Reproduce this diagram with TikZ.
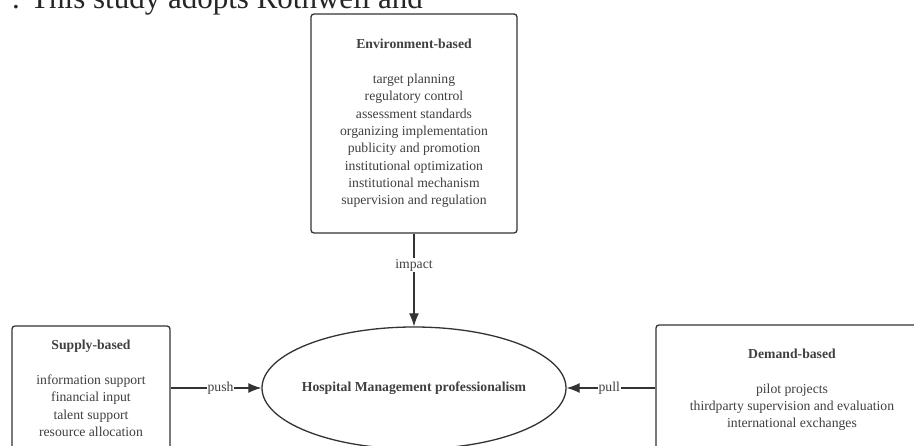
\documentclass[tikz,border=0pt]{standalone}
\usepackage{fontspec}
\setmainfont{Liberation Serif}
\usepackage{xcolor}
\usetikzlibrary{shapes.geometric,arrows.meta}
\colorlet{box edge}{black!80}
\colorlet{box text}{black!75}
\def\itemfont{\fontsize{13.7}{17.3}\selectfont}
\tikzset{factor/.style={draw=box edge, line width=1.3pt, rounded corners=3pt,
        align=center, text=box text, font=\itemfont, inner sep=0pt},
    core/.style={ellipse, draw=box edge, line width=1.3pt, text=box text,
        font=\itemfont\bfseries, minimum width=304, minimum height=122},
    link/.style={draw=box edge, line width=1.2pt, -{Latex[length=13pt,width=10pt]}},
    linklabel/.style={fill=white, inner sep=1pt, text=box text, font=\itemfont}}

\begin{document}
\begin{tikzpicture}[x=1pt,y=-1pt]
    \useasboundingbox (0,0) rectangle (914,446);
    \fill[white] (0,0) rectangle (914,446);
    % line of running text cut by the top edge
    \begin{scope}
        \clip (0,0) rectangle (914,446);
        \node[anchor=base west, inner sep=0pt, font=\fontsize{31}{31}\selectfont,
            text=black!85] (intro) at (12,9) {. This study adopts Rothwell and};
    \end{scope}
    % the three factors
    \node[factor, minimum width=206, minimum height=219] (env) at (414,123.5)
      {\textbf{Environment-based}\\[17.3pt]
       target planning\\regulatory control\\assessment standards\\
       organizing implementation\\publicity and promotion\\
       institutional optimization\\institutional mechanism\\
       supervision and regulation};
    \node[factor, minimum width=158, minimum height=125] (supply) at (91,388.5)
      {\textbf{Supply-based}\\[17.3pt]
       information support\\financial input\\talent support\\resource allocation};
    \node[factor, minimum width=272, minimum height=130] (demand) at (792,390)
      {\textbf{Demand-based}\\[17.3pt]
       pilot projects\\thirdparty supervision and evaluation\\international exchanges};
    \node[core] (hmp) at (414,388) {\makebox[0pt]{Hospital Management professionalism}};
    % connectors
    \draw[link] (env) -- node[linklabel, pos=.34] {impact} (hmp);
    \draw[link] (supply.east |- hmp) -- node[linklabel, pos=.55] {push} (hmp);
    \draw[link] (demand.west |- hmp) -- node[linklabel, pos=.52] {pull} (hmp);
\end{tikzpicture}
\end{document}
